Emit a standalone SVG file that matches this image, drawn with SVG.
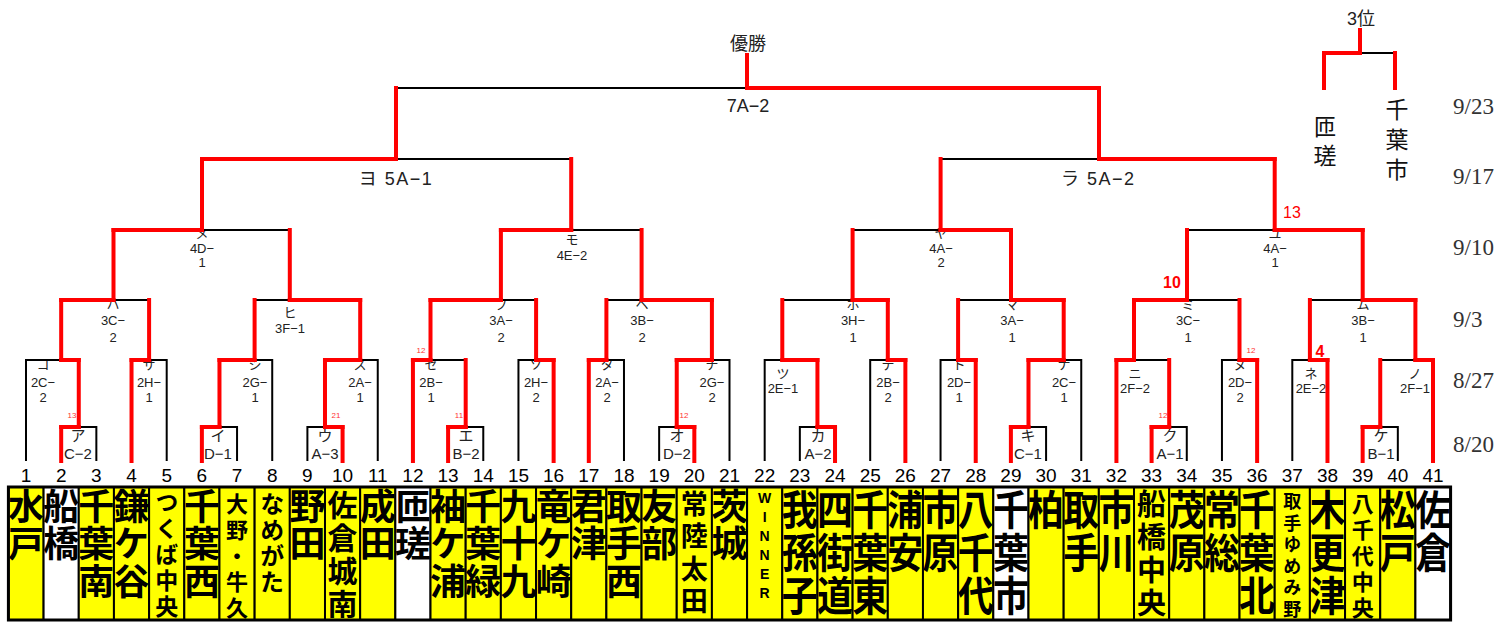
<svg xmlns="http://www.w3.org/2000/svg" width="1504" height="622" viewBox="0 0 1504 622">
<style>
.blk{fill:none;stroke:#000;stroke-width:2}
.red{fill:none;stroke:#f00;stroke-width:4;stroke-linecap:square}
.lb{font-family:"Liberation Sans","Noto Sans CJK JP",sans-serif;font-size:13px;fill:#222;text-anchor:middle}
.lb1{font-size:15px}
.big{font-family:"Liberation Sans","Noto Sans CJK JP",sans-serif;font-size:18px;fill:#222}
.num{font-family:"Liberation Sans",sans-serif;font-size:19px;fill:#000;text-anchor:middle}
.nm{font-family:"Noto Sans CJK JP",sans-serif;font-weight:bold;fill:#000;writing-mode:vertical-rl;text-anchor:start}
.L{font-size:36px;letter-spacing:1.5px}
.S{transform:matrix(1,0,0,1.15,0,-73.05)}
.top{font-family:"Noto Sans CJK JP",sans-serif;font-size:23px;fill:#111;writing-mode:vertical-rl;text-anchor:start}
.dt{font-family:"Liberation Serif",serif;font-size:23px;fill:#333}
.sc{font-family:"Liberation Sans",sans-serif;font-size:8px;fill:#f33;text-anchor:middle}
.sc2{font-family:"Liberation Sans",sans-serif;font-size:16px;fill:#f00;text-anchor:middle}
.y{fill:#ff0;stroke:#000;stroke-width:2}
.w{fill:#fff;stroke:#000;stroke-width:2}
</style>
<defs><clipPath id="clipRa"><rect x="1050" y="160" width="84" height="40"/></clipPath></defs>
<rect width="1504" height="622" fill="#fff"/>

<g id="titles">
<text class="big" x="748" y="50" text-anchor="middle" font-size="20">優勝</text>
<text class="big" x="1361" y="25" text-anchor="middle">3位</text>
<text class="top" x="1325" y="115" letter-spacing="6">匝瑳</text>
<text class="top" x="1397" y="98" letter-spacing="7">千葉市</text>
</g>

<g id="dates">
<text class="dt" x="1453" y="114">9/23</text>
<text class="dt" x="1453" y="184">9/17</text>
<text class="dt" x="1453" y="255">9/10</text>
<text class="dt" x="1453" y="327">9/3</text>
<text class="dt" x="1453" y="388">8/27</text>
<text class="dt" x="1453" y="452">8/20</text>
</g>

<g id="match-labels">
<g id="m-final"><text class="big" x="748" y="112" text-anchor="middle">7A−2</text></g>
<g id="m-yo"><text class="big" x="396" y="185" text-anchor="middle" letter-spacing="1.5">ヨ 5A−1</text></g>
<g id="m-ra"><text class="big" x="1061" y="185" letter-spacing="1.5" clip-path="url(#clipRa)">ラ 5A−2</text></g>
<g id="m-me"><text class="lb" x="202" y="238">メ</text><text class="lb" x="202" y="253">4D−</text><text class="lb" x="202" y="267">1</text></g>
<g id="m-mo"><text class="lb" x="572" y="244">モ</text><text class="lb" x="572" y="260">4E−2</text></g>
<g id="m-ya"><text class="lb" x="941" y="238">ヤ</text><text class="lb" x="941" y="253">4A−</text><text class="lb" x="941" y="267">2</text></g>
<g id="m-yu"><text class="lb" x="1275" y="238">ユ</text><text class="lb" x="1275" y="253">4A−</text><text class="lb" x="1275" y="267">1</text></g>
<g id="m-ha"><text class="lb" x="113" y="309">ハ</text><text class="lb" x="113" y="325">3C−</text><text class="lb" x="113" y="342">2</text></g>
<g id="m-hi"><text class="lb" x="290" y="317">ヒ</text><text class="lb" x="290" y="333">3F−1</text></g>
<g id="m-fu"><text class="lb" x="501" y="309">フ</text><text class="lb" x="501" y="325">3A−</text><text class="lb" x="501" y="342">2</text></g>
<g id="m-he"><text class="lb" x="642" y="309">ヘ</text><text class="lb" x="642" y="325">3B−</text><text class="lb" x="642" y="342">2</text></g>
<g id="m-ho"><text class="lb" x="853" y="309">ホ</text><text class="lb" x="853" y="325">3H−</text><text class="lb" x="853" y="342">1</text></g>
<g id="m-ma"><text class="lb" x="1012" y="309">マ</text><text class="lb" x="1012" y="325">3A−</text><text class="lb" x="1012" y="342">1</text></g>
<g id="m-mi"><text class="lb" x="1188" y="309">ミ</text><text class="lb" x="1188" y="325">3C−</text><text class="lb" x="1188" y="342">1</text></g>
<g id="m-mu"><text class="lb" x="1363" y="309">ム</text><text class="lb" x="1363" y="325">3B−</text><text class="lb" x="1363" y="342">1</text></g>
<g id="m-ko"><text class="lb" x="43" y="369">コ</text><text class="lb" x="43" y="387">2C−</text><text class="lb" x="43" y="402">2</text></g>
<g id="m-sa"><text class="lb" x="149" y="369">サ</text><text class="lb" x="149" y="387">2H−</text><text class="lb" x="149" y="402">1</text></g>
<g id="m-shi"><text class="lb" x="255" y="369">シ</text><text class="lb" x="255" y="387">2G−</text><text class="lb" x="255" y="402">1</text></g>
<g id="m-su"><text class="lb" x="360" y="369">ス</text><text class="lb" x="360" y="387">2A−</text><text class="lb" x="360" y="402">1</text></g>
<g id="m-se"><text class="lb" x="431" y="369">セ</text><text class="lb" x="431" y="387">2B−</text><text class="lb" x="431" y="402">1</text></g>
<g id="m-so"><text class="lb" x="536" y="369">ソ</text><text class="lb" x="536" y="387">2H−</text><text class="lb" x="536" y="402">2</text></g>
<g id="m-ta"><text class="lb" x="607" y="369">タ</text><text class="lb" x="607" y="387">2A−</text><text class="lb" x="607" y="402">2</text></g>
<g id="m-chi"><text class="lb" x="712" y="369">チ</text><text class="lb" x="712" y="387">2G−</text><text class="lb" x="712" y="402">2</text></g>
<g id="m-tsu"><text class="lb" x="783" y="378">ツ</text><text class="lb" x="783" y="393">2E−1</text></g>
<g id="m-te"><text class="lb" x="888" y="369">テ</text><text class="lb" x="888" y="387">2B−</text><text class="lb" x="888" y="402">2</text></g>
<g id="m-to"><text class="lb" x="959" y="369">ト</text><text class="lb" x="959" y="387">2D−</text><text class="lb" x="959" y="402">1</text></g>
<g id="m-na"><text class="lb" x="1064" y="369">ナ</text><text class="lb" x="1064" y="387">2C−</text><text class="lb" x="1064" y="402">1</text></g>
<g id="m-ni"><text class="lb" x="1135" y="378">ニ</text><text class="lb" x="1135" y="393">2F−2</text></g>
<g id="m-nu"><text class="lb" x="1240" y="369">ヌ</text><text class="lb" x="1240" y="387">2D−</text><text class="lb" x="1240" y="402">2</text></g>
<g id="m-ne"><text class="lb" x="1311" y="378">ネ</text><text class="lb" x="1311" y="393">2E−2</text></g>
<g id="m-no"><text class="lb" x="1415" y="378">ノ</text><text class="lb" x="1415" y="393">2F−1</text></g>
<g id="m-a"><text class="lb lb1" x="78" y="441">ア</text><text class="lb lb1" x="78" y="459">C−2</text></g>
<g id="m-i"><text class="lb lb1" x="218" y="441">イ</text><text class="lb lb1" x="218" y="459">D−1</text></g>
<g id="m-u"><text class="lb lb1" x="325" y="441">ウ</text><text class="lb lb1" x="325" y="459">A−3</text></g>
<g id="m-e"><text class="lb lb1" x="466" y="441">エ</text><text class="lb lb1" x="466" y="459">B−2</text></g>
<g id="m-o"><text class="lb lb1" x="677" y="441">オ</text><text class="lb lb1" x="677" y="459">D−2</text></g>
<g id="m-ka"><text class="lb lb1" x="818" y="441">カ</text><text class="lb lb1" x="818" y="459">A−2</text></g>
<g id="m-ki"><text class="lb lb1" x="1028" y="441">キ</text><text class="lb lb1" x="1028" y="459">C−1</text></g>
<g id="m-ku"><text class="lb lb1" x="1170" y="441">ク</text><text class="lb lb1" x="1170" y="459">A−1</text></g>
<g id="m-ke"><text class="lb lb1" x="1381" y="441">ケ</text><text class="lb lb1" x="1381" y="459">B−1</text></g>
</g>

<g id="scores">
<text class="sc" x="72" y="418">13</text>
<text class="sc" x="336" y="418">21</text>
<text class="sc" x="421" y="353">12</text>
<text class="sc" x="459" y="418">11</text>
<text class="sc" x="684" y="418">12</text>
<text class="sc" x="1163" y="418">12</text>
<text class="sc" x="1251" y="353">12</text>
<text class="sc2" x="1292" y="218">13</text>
<text class="sc2" x="1172" y="288" font-weight="bold">10</text>
<text class="sc2" x="1320" y="357" font-weight="bold">4</text>
</g>

<g id="connectors">
<path class="blk" d="M61.18 461V427H96.35V461M201.88 461V427H237.05V461M307.4 461V427H342.58V461M448.1 461V427H483.28V461M659.15 461V427H694.33V461M799.85 461V427H835.03V461M1010.9 461V427H1046.08V461M1151.6 461V427H1186.78V461M1362.65 461V427H1397.83V461"/>
<path class="blk" d="M26 461V360H78.77V427M131.53 461V360H166.7V461M219.47 427V360H272.23V461M324.99 427V360H377.75V461M412.93 461V360H465.69V427M518.45 461V360H553.63V461M588.8 461V360H623.98V461M676.74 427V360H729.5V461M764.68 461V360H817.44V427M870.2 461V360H905.38V461M940.55 461V360H975.73V461M1028.49 427V360H1081.25V461M1116.43 461V360H1169.19V427M1221.95 461V360H1257.13V461M1292.3 461V360H1327.48V461M1380.24 427V360H1433V461"/>
<path class="blk" d="M61.18 360V300H149.1V360M254.6 360V300H360.2V360M430.5 360V300H536.1V360M606.4 360V300H711.9V360M782.3 360V300H887.8V360M958.1 360V300H1063.7V360M1134 360V300H1239.5V360M1309.9 360V300H1415.4V360"/>
<path class="blk" d="M113.5 300V230H289.8V300M500.9 300V230H641.6V300M852.6 300V230H1011V300M1187 300V230H1362.7V300"/>
<path class="blk" d="M202 230V159H571.2V230M940.6 230V159H1274.7V230M396 159V88H1099V159M1324 88V53H1395V88"/>
<path class="red" d="M78.77 427V360M219.47 427V360M324.99 427V360M465.69 427V360M676.74 427V360M817.44 427V360M1028.49 427V360M1169.19 427V360M1380.24 427V360"/>
<path class="red" d="M61.18 360V300M149.1 360V300M254.6 360V300M360.2 360V300M430.5 360V300M536.1 360V300M606.4 360V300M711.9 360V300M782.3 360V300M887.8 360V300M958.1 360V300M1063.7 360V300M1134 360V300M1239.5 360V300M1309.9 360V300M1415.4 360V300"/>
<path class="red" d="M113.5 300V230M289.8 300V230M500.9 300V230M641.6 300V230M852.6 300V230M1011 300V230M1187 300V230M1362.7 300V230M202 230V159M571.2 230V159M940.6 230V159M1274.7 230V159M396 159V88M1099 159V88M747 88V55M1324 53V88M1395 53V88M1360 53V30"/>
<path class="red" d="M61.18 427H78.77M201.88 427H219.47M324.99 427H342.58M448.1 427H465.69M676.74 427H694.33M817.44 427H835.03M1010.9 427H1028.49M1151.6 427H1169.19M1362.65 427H1380.24"/>
<path class="red" d="M61.18 360H78.77M131.53 360H149.1M219.47 360H254.6M324.99 360H360.2M412.93 360H430.5M536.1 360H553.63M588.8 360H606.4M676.74 360H711.9M782.3 360H817.44M887.8 360H905.38M958.1 360H975.73M1028.49 360H1063.7M1116.43 360H1134M1239.5 360H1257.13M1309.9 360H1327.48M1415.4 360H1433"/>
<path class="red" d="M61.18 300H113.5M289.8 300H360.2M430.5 300H500.9M641.6 300H711.9M852.6 300H887.8M1011 300H1063.7M1134 300H1187M1362.7 300H1415.4M113.5 230H202M500.9 230H571.2M940.6 230H1011M1274.7 230H1362.7M202 159H396M1099 159H1274.7M747 88H1099M1324 53H1360"/>
<path class="red" d="M61.18 461V427M201.88 461V427M342.58 461V427M448.1 461V427M694.33 461V427M835.03 461V427M1010.9 461V427M1151.6 461V427M1362.65 461V427M131.53 461V360M412.93 461V360M553.63 461V360M588.8 461V360M905.38 461V360M975.73 461V360M1116.43 461V360M1257.13 461V360M1327.48 461V360M1433 461V360"/>
</g>

<g id="slot-numbers">
<text class="num" x="26" y="482">1</text><text class="num" x="61.18" y="482">2</text><text class="num" x="96.35" y="482">3</text><text class="num" x="131.53" y="482">4</text><text class="num" x="166.7" y="482">5</text><text class="num" x="201.88" y="482">6</text><text class="num" x="237.05" y="482">7</text><text class="num" x="272.23" y="482">8</text><text class="num" x="307.4" y="482">9</text><text class="num" x="342.58" y="482">10</text><text class="num" x="377.75" y="482">11</text><text class="num" x="412.93" y="482">12</text><text class="num" x="448.1" y="482">13</text><text class="num" x="483.28" y="482">14</text><text class="num" x="518.45" y="482">15</text><text class="num" x="553.63" y="482">16</text><text class="num" x="588.8" y="482">17</text><text class="num" x="623.98" y="482">18</text><text class="num" x="659.15" y="482">19</text><text class="num" x="694.33" y="482">20</text><text class="num" x="729.5" y="482">21</text><text class="num" x="764.68" y="482">22</text><text class="num" x="799.85" y="482">23</text><text class="num" x="835.03" y="482">24</text><text class="num" x="870.2" y="482">25</text><text class="num" x="905.38" y="482">26</text><text class="num" x="940.55" y="482">27</text><text class="num" x="975.73" y="482">28</text><text class="num" x="1010.9" y="482">29</text><text class="num" x="1046.08" y="482">30</text><text class="num" x="1081.25" y="482">31</text><text class="num" x="1116.43" y="482">32</text><text class="num" x="1151.6" y="482">33</text><text class="num" x="1186.78" y="482">34</text><text class="num" x="1221.95" y="482">35</text><text class="num" x="1257.13" y="482">36</text><text class="num" x="1292.3" y="482">37</text><text class="num" x="1327.48" y="482">38</text><text class="num" x="1362.65" y="482">39</text><text class="num" x="1397.83" y="482">40</text><text class="num" x="1433" y="482">41</text>
</g>

<g id="teams">
<g id="t1"><rect class="y" x="8.41" y="487" width="35.18" height="133"/><text class="nm L" x="26" y="488.3">水戸</text></g>
<g id="t2"><rect class="w" x="43.59" y="487" width="35.18" height="133"/><text class="nm L" x="61.18" y="488.3">船橋</text></g>
<g id="t3"><rect class="y" x="78.76" y="487" width="35.18" height="133"/><text class="nm L" x="96.35" y="488.3">千葉南</text></g>
<g id="t4"><rect class="y" x="113.94" y="487" width="35.18" height="133"/><text class="nm L" x="131.53" y="488.3">鎌ケ谷</text></g>
<g id="t5"><rect class="y" x="149.11" y="487" width="35.18" height="133"/><text class="nm" x="166.7" y="490.8" font-size="23" letter-spacing="3">つくば中央</text></g>
<g id="t6"><rect class="y" x="184.29" y="487" width="35.18" height="133"/><text class="nm L" x="201.88" y="488.3">千葉西</text></g>
<g id="t7"><rect class="y" x="219.46" y="487" width="35.18" height="133"/><text class="nm" x="237.05" y="492.6" font-size="22" letter-spacing="4">大野・牛久</text></g>
<g id="t8"><rect class="y" x="254.64" y="487" width="35.18" height="133"/><text class="nm" x="272.23" y="491.9" font-size="24" letter-spacing="2">なめがた</text></g>
<g id="t9"><rect class="y" x="289.81" y="487" width="35.18" height="133"/><text class="nm L" x="307.4" y="488.3">野田</text></g>
<g id="t10"><rect class="y" x="324.99" y="487" width="35.18" height="133"/><text class="nm" x="342.58" y="489.6" font-size="30" letter-spacing="3">佐倉城南</text></g>
<g id="t11"><rect class="y" x="360.16" y="487" width="35.18" height="133"/><text class="nm L" x="377.75" y="488.3">成田</text></g>
<g id="t12"><rect class="w" x="395.34" y="487" width="35.18" height="133"/><text class="nm L" x="412.93" y="488.3">匝瑳</text></g>
<g id="t13"><rect class="y" x="430.51" y="487" width="35.18" height="133"/><text class="nm L" x="448.1" y="488.3">袖ケ浦</text></g>
<g id="t14"><rect class="y" x="465.69" y="487" width="35.18" height="133"/><text class="nm L" x="483.28" y="488.3">千葉緑</text></g>
<g id="t15"><rect class="y" x="500.86" y="487" width="35.18" height="133"/><text class="nm L" x="518.45" y="488.3">九十九</text></g>
<g id="t16"><rect class="y" x="536.04" y="487" width="35.18" height="133"/><text class="nm L" x="553.63" y="488.3">竜ケ崎</text></g>
<g id="t17"><rect class="y" x="571.21" y="487" width="35.18" height="133"/><text class="nm L" x="588.8" y="488.3">君津</text></g>
<g id="t18"><rect class="y" x="606.39" y="487" width="35.18" height="133"/><text class="nm L" x="623.98" y="488.3">取手西</text></g>
<g id="t19"><rect class="y" x="641.56" y="487" width="35.18" height="133"/><text class="nm L" x="659.15" y="488.3">友部</text></g>
<g id="t20"><rect class="y" x="676.74" y="487" width="35.18" height="133"/><text class="nm" x="694.33" y="490.2" font-size="27" letter-spacing="5.3">常陸太田</text></g>
<g id="t21"><rect class="y" x="711.91" y="487" width="35.18" height="133"/><text class="nm L" x="729.5" y="488.3">茨城</text></g>
<g id="t22"><rect class="y" x="747.09" y="487" width="35.18" height="133"/><text font-family="Liberation Sans,sans-serif" font-weight="bold" font-size="14" text-anchor="middle"><tspan x="764.68" y="503">W</tspan><tspan x="764.68" y="522">I</tspan><tspan x="764.68" y="541">N</tspan><tspan x="764.68" y="560">N</tspan><tspan x="764.68" y="579">E</tspan><tspan x="764.68" y="598">R</tspan></text></g>
<g id="t23"><rect class="y" x="782.26" y="487" width="35.18" height="133"/><text class="nm L S" x="799.85" y="488.3">我孫子</text></g>
<g id="t24"><rect class="y" x="817.44" y="487" width="35.18" height="133"/><text class="nm L S" x="835.03" y="488.3">四街道</text></g>
<g id="t25"><rect class="y" x="852.61" y="487" width="35.18" height="133"/><text class="nm L S" x="870.2" y="488.3">千葉東</text></g>
<g id="t26"><rect class="y" x="887.79" y="487" width="35.18" height="133"/><text class="nm L S" x="905.38" y="488.3">浦安</text></g>
<g id="t27"><rect class="y" x="922.96" y="487" width="35.18" height="133"/><text class="nm L S" x="940.55" y="488.3">市原</text></g>
<g id="t28"><rect class="y" x="958.14" y="487" width="35.18" height="133"/><text class="nm L S" x="975.73" y="488.3">八千代</text></g>
<g id="t29"><rect class="w" x="993.31" y="487" width="35.18" height="133"/><text class="nm L S" x="1010.9" y="488.3">千葉市</text></g>
<g id="t30"><rect class="y" x="1028.49" y="487" width="35.18" height="133"/><text class="nm L S" x="1046.08" y="488.3">柏</text></g>
<g id="t31"><rect class="y" x="1063.66" y="487" width="35.18" height="133"/><text class="nm L S" x="1081.25" y="488.3">取手</text></g>
<g id="t32"><rect class="y" x="1098.84" y="487" width="35.18" height="133"/><text class="nm L S" x="1116.43" y="488.3">市川</text></g>
<g id="t33"><rect class="y" x="1134.01" y="487" width="35.18" height="133"/><text class="nm" x="1151.6" y="489.5" font-size="29" letter-spacing="4">船橋中央</text></g>
<g id="t34"><rect class="y" x="1169.19" y="487" width="35.18" height="133"/><text class="nm L S" x="1186.78" y="488.3">茂原</text></g>
<g id="t35"><rect class="y" x="1204.36" y="487" width="35.18" height="133"/><text class="nm L S" x="1221.95" y="488.3">常総</text></g>
<g id="t36"><rect class="y" x="1239.54" y="487" width="35.18" height="133"/><text class="nm L S" x="1257.13" y="488.3">千葉北</text></g>
<g id="t37"><rect class="y" x="1274.71" y="487" width="35.18" height="133"/><text class="nm" x="1292.3" y="492.2" font-size="18" letter-spacing="3.5">取手ゆめみ野</text></g>
<g id="t38"><rect class="y" x="1309.89" y="487" width="35.18" height="133"/><text class="nm L S" x="1327.48" y="488.3">木更津</text></g>
<g id="t39"><rect class="y" x="1345.06" y="487" width="35.18" height="133"/><text class="nm" x="1362.65" y="492.6" font-size="22" letter-spacing="4">八千代中央</text></g>
<g id="t40"><rect class="y" x="1380.24" y="487" width="35.18" height="133"/><text class="nm L S" x="1397.83" y="488.3">松戸</text></g>
<g id="t41"><rect class="w" x="1415.41" y="487" width="35.18" height="133"/><text class="nm L S" x="1433" y="488.3">佐倉</text></g>
<rect x="8.41" y="487" width="1442.18" height="133" fill="none" stroke="#000" stroke-width="3"/>
</g>
</svg>
